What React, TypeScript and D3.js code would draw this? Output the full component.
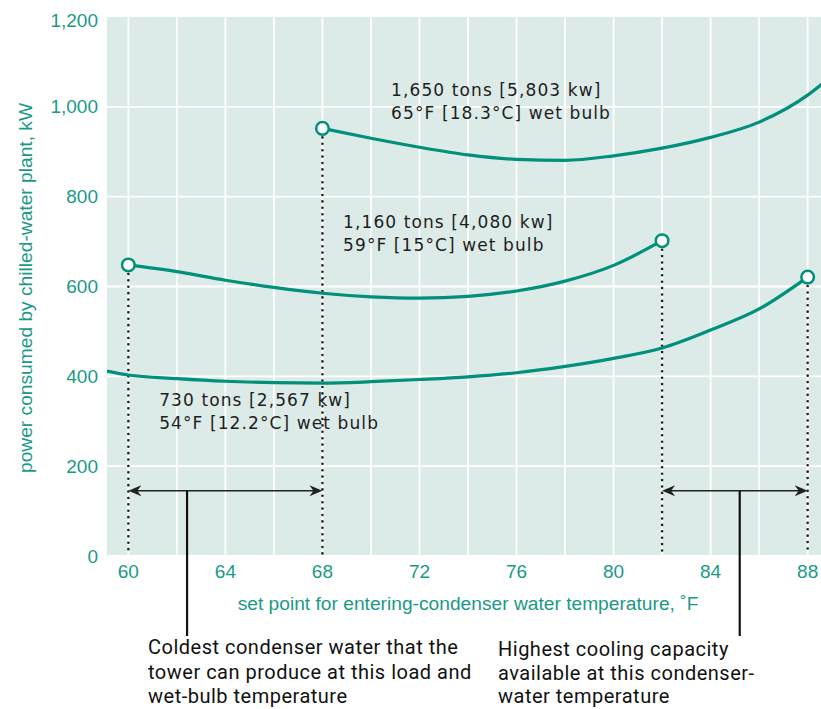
import React from "react";
import * as d3 from "d3";

const W = 821;
const H = 709;

const xTicks = [60, 64, 68, 72, 76, 80, 84, 88];
const xGrid = [60, 62, 64, 66, 68, 70, 72, 74, 76, 78, 80, 82, 84, 86, 88];
const yTicks = [0, 200, 400, 600, 800, 1000, 1200];

const s730X = [59.1, 60, 62, 64, 66, 68, 70, 72, 74, 76, 78, 80, 82, 84, 86, 88];
const s730Y = [412, 403, 395, 389, 386, 385, 388, 393, 399, 408, 422, 440, 463, 503, 550, 621];

const s1160X = [60, 62, 64, 66, 68, 70, 72, 74, 76, 78, 80, 82];
const s1160Y = [648, 633, 614, 598, 585, 577, 574, 578, 590, 612, 647, 702];

const s1650X = [68, 70, 72, 74, 76, 78, 80, 82, 84, 86, 88, 88.6];
const s1650Y = [952, 930, 910, 893, 883, 881, 891, 908, 932, 966, 1026, 1051];

const endpointsX = [60, 68, 82, 88];
const endpointsY = [648, 952, 702, 621];

const rangeArrows = [
  { from: 60, to: 68, y: 145, callX: 62.42 },
  { from: 82, to: 88, y: 145, callX: 85.2 },
];

const curveLabels = [
  { x: 70.83, y: 1038, lines: ["1,650 tons [5,803 kw]", "65°F [18.3°C] wet bulb"] },
  { x: 68.85, y: 744, lines: ["1,160 tons [4,080 kw]", "59°F [15°C] wet bulb"] },
  { x: 61.27, y: 348, lines: ["730 tons [2,567 kw]", "54°F [12.2°C] wet bulb"] },
];

const noteLeft = ["Coldest condenser water that the", "tower can produce at this load and", "wet-bulb temperature"];
const noteRight = ["Highest cooling capacity", "available at this condenser-", "water temperature"];

const xLabel = "set point for entering-condenser water temperature, ˚F";
const yLabel = "power consumed by chilled-water plant, kW";

const TEAL = "#00907b";
const TEAL_TEXT = "#1a9a86";
const BG = "#dcebe7";

export default function App() {
  const x = d3.scaleLinear().domain([59.12, 88.55]).range([107, 821]);
  const y = d3.scaleLinear().domain([0, 1200]).range([556, 17]);
  const left = x(59.12);
  const right = x(88.55);
  const top = y(1200);
  const bottom = 555;

  const line = d3
    .line<[number, number]>()
    .x((d) => x(d[0]))
    .y((d) => y(d[1]))
    .curve(d3.curveMonotoneX);

  const series = [
    d3.zip(s730X, s730Y) as [number, number][],
    d3.zip(s1160X, s1160Y) as [number, number][],
    d3.zip(s1650X, s1650Y) as [number, number][],
  ];

  const arrowHead = (tipX: number, tipY: number, dir: number) => {
    const L = 13;
    const hw = 5.5;
    const back = tipX - dir * L;
    const notch = tipX - dir * (L - 4);
    return `M${tipX},${tipY} L${back},${tipY - hw} L${notch},${tipY} L${back},${tipY + hw} Z`;
  };

  const annFont = "'DejaVu Sans', Verdana, sans-serif";
  const axisFont = "'Liberation Sans', Arial, sans-serif";
  const noteFont = "Roboto, 'Liberation Sans', sans-serif";

  return (
    <svg
      width={W}
      height={H}
      style={{ position: "absolute", left: 0, top: 0, background: "#fff" }}
    >
      <defs>
        <clipPath id="plotClip">
          <rect x={left} y={top} width={right - left} height={bottom - top} />
        </clipPath>
      </defs>
      <rect x={left} y={top} width={right - left} height={bottom - top} fill={BG} />
      {xGrid.map((v) => (
        <line key={"gx" + v} x1={x(v)} x2={x(v)} y1={top} y2={bottom} stroke="#fff" strokeWidth={1.8} />
      ))}
      {yTicks
        .filter((v) => v > 0 && v < 1200)
        .map((v) => (
          <line key={"gy" + v} x1={left} x2={right} y1={y(v)} y2={y(v)} stroke="#fff" strokeWidth={1.8} />
        ))}

      {/* dotted drop lines */}
      {endpointsX.map((v, i) => (
        <line
          key={"dl" + i}
          x1={x(v)}
          x2={x(v)}
          y1={y(endpointsY[i]) + 9}
          y2={bottom - 1}
          stroke="#222"
          strokeWidth={2.6}
          strokeLinecap="round"
          strokeDasharray="0 6.4"
        />
      ))}

      {/* curves */}
      <g clipPath="url(#plotClip)">
        {series.map((s, i) => (
          <path key={"s" + i} d={line(s) || ""} fill="none" stroke={TEAL} strokeWidth={3.2} />
        ))}
      </g>
      {endpointsX.map((v, i) => (
        <circle key={"c" + i} cx={x(v)} cy={y(endpointsY[i])} r={6.3} fill="#fff" stroke={TEAL} strokeWidth={2.5} />
      ))}

      {/* range arrows */}
      {rangeArrows.map((a, i) => (
        <g key={"ra" + i}>
          <line x1={x(a.from) + 6} x2={x(a.to) - 6} y1={y(a.y)} y2={y(a.y)} stroke="#222" strokeWidth={1.5} />
          <path d={arrowHead(x(a.from), y(a.y), -1)} fill="#222" />
          <path d={arrowHead(x(a.to), y(a.y), 1)} fill="#222" />
          <line x1={x(a.callX)} x2={x(a.callX)} y1={y(a.y)} y2={636} stroke="#111" strokeWidth={2.2} />
        </g>
      ))}

      {/* curve labels */}
      {curveLabels.map((c, i) => (
        <text
          key={"cl" + i}
          x={x(c.x)}
          y={y(c.y)}
          fontFamily={annFont}
          fontSize={17}
          letterSpacing={1.1}
          fill="#1e1e1e"
        >
          {c.lines.map((l, j) => (
            <tspan key={j} x={x(c.x)} dy={j === 0 ? "0.35em" : 23}>
              {l}
            </tspan>
          ))}
        </text>
      ))}

      {/* y ticks */}
      {yTicks.map((v) => (
        <text
          key={"yt" + v}
          x={98}
          y={Math.max(y(v), 20)}
          textAnchor="end"
          dominantBaseline="central"
          fontFamily={axisFont}
          fontSize={19}
          fill={TEAL_TEXT}
        >
          {d3.format(",")(v)}
        </text>
      ))}
      {/* x ticks */}
      {xTicks.map((v) => (
        <text
          key={"xt" + v}
          x={x(v)}
          y={571}
          textAnchor="middle"
          dominantBaseline="central"
          fontFamily={axisFont}
          fontSize={19}
          fill={TEAL_TEXT}
        >
          {v}
        </text>
      ))}

      <text
        x={468}
        y={603}
        textAnchor="middle"
        dominantBaseline="central"
        fontFamily={axisFont}
        fontSize={19.2}
        fill={TEAL_TEXT}
      >
        {xLabel}
      </text>
      <text
        transform={`translate(25,288) rotate(-90)`}
        textAnchor="middle"
        dominantBaseline="central"
        fontFamily={axisFont}
        fontSize={19.2}
        fill={TEAL_TEXT}
      >
        {yLabel}
      </text>

      {/* bottom notes */}
      {noteLeft.map((l, i) => (
        <text key={"nl" + i} x={148} y={647 + i * 24.5} dominantBaseline="central" fontFamily={noteFont} fontSize={20} letterSpacing={0.5} fill="#111">
          {l}
        </text>
      ))}
      {noteRight.map((l, i) => (
        <text key={"nr" + i} x={498} y={649 + i * 23.5} dominantBaseline="central" fontFamily={noteFont} fontSize={20} letterSpacing={0.5} fill="#111">
          {l}
        </text>
      ))}
    </svg>
  );
}
